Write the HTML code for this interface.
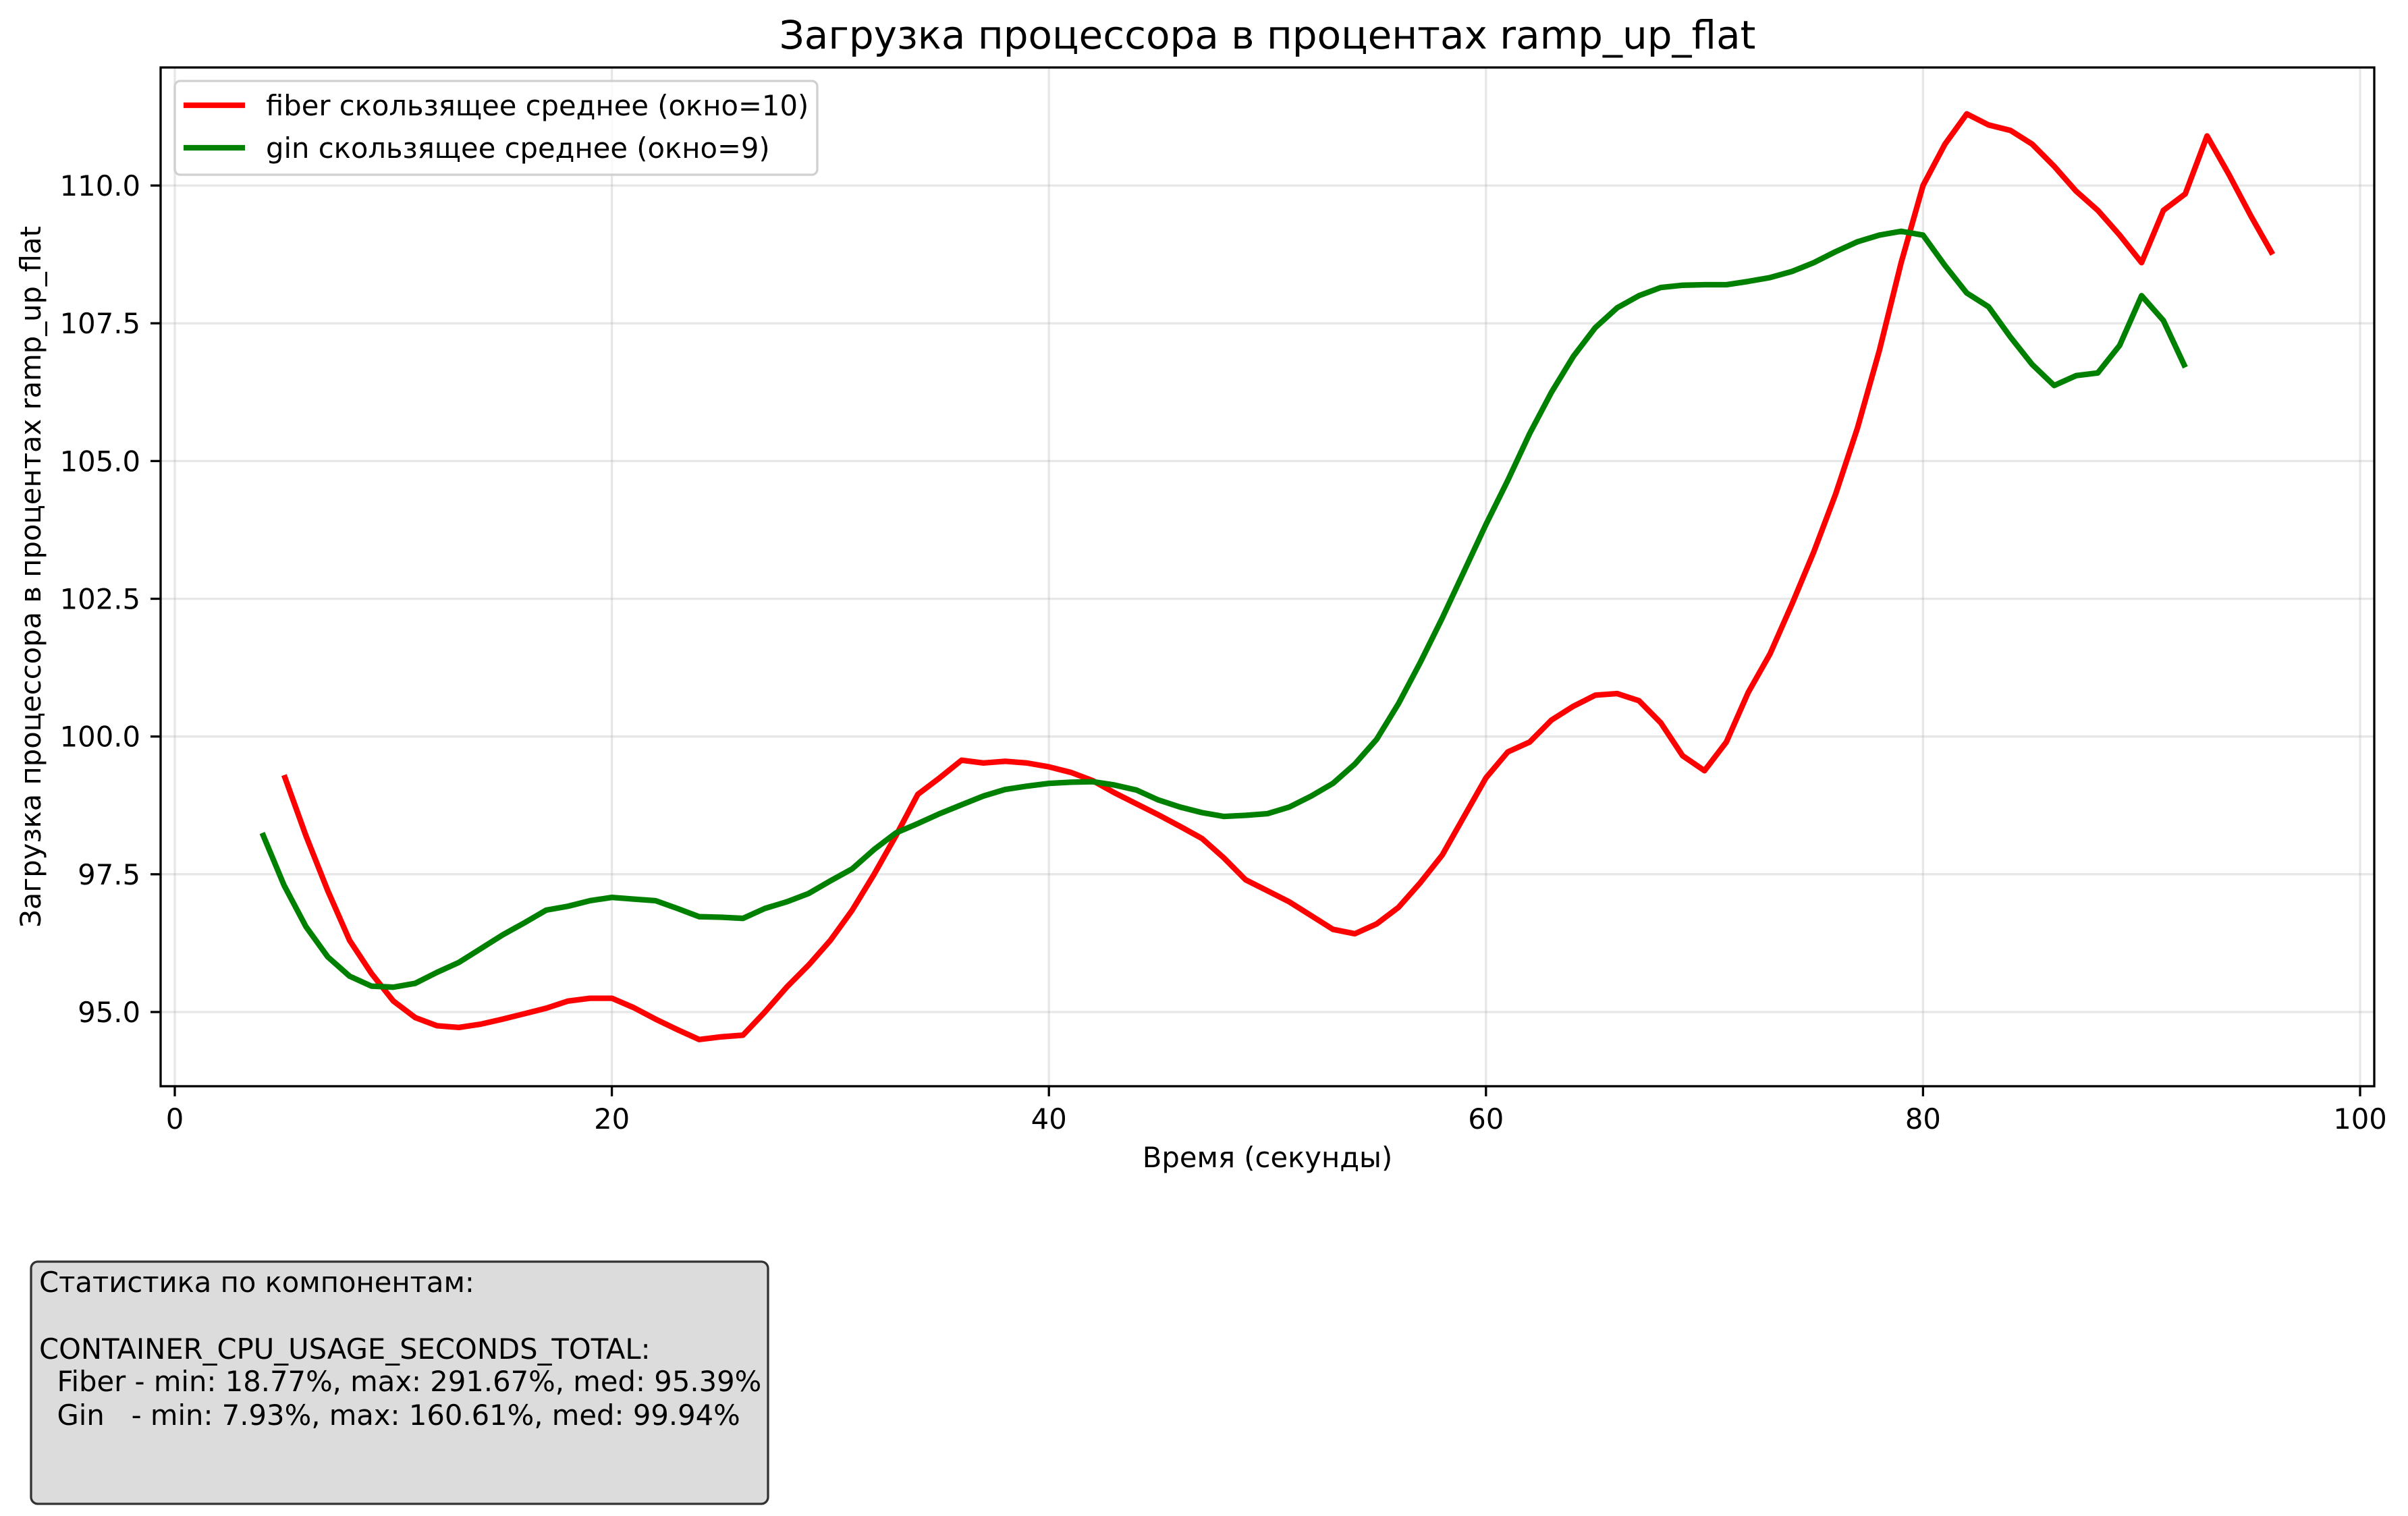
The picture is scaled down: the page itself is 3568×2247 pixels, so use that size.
<!DOCTYPE html>
<html><head><meta charset="utf-8"><style>
body{margin:0;background:#fff}
svg{display:block;font-family:"DejaVu Sans","Liberation Sans",sans-serif}
</style></head><body>
<svg id="chart" width="3568" height="2247" viewBox="0 0 3568 2247">
<rect width="3568" height="2247" fill="#fff"/>
<text x="1878" y="72" font-size="58" text-anchor="middle">Загрузка процессора в процентах ramp_up_flat</text>
<g id="grid"></g>
<g id="series"></g>
<rect x="238" y="100" width="3280" height="1510" fill="none" stroke="#000" stroke-width="3.3"/>
<g id="ticks"></g>
<text x="1878" y="1730" font-size="41.7" text-anchor="middle">Время (секунды)</text>
<text transform="translate(60,855) rotate(-90)" font-size="41.7" text-anchor="middle">Загрузка процессора в процентах ramp_up_flat</text>
<g>
<rect x="259" y="120" width="952" height="139" rx="8" fill="#fff" fill-opacity="0.8" stroke="#d0d0d0" stroke-width="3.3"/>
<line x1="272" y1="156" x2="363" y2="156" stroke="#ff0000" stroke-width="8.3"/>
<text x="394" y="171" font-size="41.7">fiber скользящее среднее (окно=10)</text>
<line x1="272" y1="219" x2="363" y2="219" stroke="#008000" stroke-width="8.3"/>
<text x="394" y="234" font-size="41.7">gin скользящее среднее (окно=9)</text>
</g>
<g>
<rect x="46" y="1870" width="1092" height="359" rx="10" fill="#dcdcdc" stroke="#333" stroke-width="3.3"/>
<text font-size="41.7" xml:space="preserve">
<tspan x="58" y="1915">Статистика по компонентам:</tspan>
<tspan x="58" y="2014">CONTAINER_CPU_USAGE_SECONDS_TOTAL:</tspan>
<tspan x="58" y="2062">  Fiber - min: 18.77%, max: 291.67%, med: 95.39%</tspan>
<tspan x="58" y="2112">  Gin   - min: 7.93%, max: 160.61%, med: 99.94%</tspan>
</text>
</g>
</svg>
<script>
const xTicks = [0, 20, 40, 60, 80, 100];
const yTicks = [95.0, 97.5, 100.0, 102.5, 105.0, 107.5, 110.0];
const fiberStart = 5;
const fiberValues = [99.3,98.2,97.2,96.3,95.7,95.2,94.9,94.75,94.72,94.78,94.87,94.97,95.07,95.2,95.25,95.25,95.08,94.87,94.68,94.5,94.55,94.58,95.0,95.45,95.85,96.3,96.85,97.5,98.2,98.95,99.25,99.57,99.52,99.55,99.52,99.45,99.35,99.2,98.98,98.78,98.58,98.37,98.15,97.8,97.4,97.2,97.0,96.75,96.5,96.42,96.6,96.9,97.35,97.85,98.55,99.25,99.72,99.9,100.3,100.55,100.75,100.78,100.65,100.25,99.65,99.38,99.9,100.8,101.5,102.4,103.35,104.4,105.6,107.0,108.6,110.0,110.75,111.3,111.1,111.0,110.75,110.35,109.9,109.55,109.1,108.6,109.55,109.85,110.9,110.2,109.45,108.75];
const ginStart = 4;
const ginValues = [98.25,97.3,96.55,96.0,95.65,95.47,95.45,95.52,95.72,95.9,96.15,96.4,96.62,96.85,96.92,97.02,97.08,97.05,97.02,96.88,96.73,96.72,96.7,96.88,97.0,97.15,97.38,97.6,97.95,98.25,98.42,98.6,98.76,98.92,99.04,99.1,99.15,99.17,99.18,99.12,99.03,98.85,98.72,98.62,98.55,98.57,98.6,98.72,98.92,99.15,99.5,99.95,100.6,101.35,102.15,103.0,103.85,104.65,105.5,106.25,106.9,107.42,107.78,108.0,108.15,108.19,108.2,108.2,108.26,108.33,108.44,108.6,108.8,108.98,109.1,109.17,109.1,108.55,108.05,107.8,107.25,106.75,106.37,106.55,106.6,107.1,108.0,107.55,106.7];

const NS = 'http://www.w3.org/2000/svg';
function X(v){ return 259 + (v - 0) * (3497 - 259) / 100; }
function Y(v){ return 275 + (110 - v) * (1500 - 275) / 15; }
function mk(tag, attrs, parent){ const e = document.createElementNS(NS, tag); for (const k in attrs) e.setAttribute(k, attrs[k]); parent.appendChild(e); return e; }
const grid = document.getElementById('grid');
const ticks = document.getElementById('ticks');
const series = document.getElementById('series');

xTicks.forEach(t => {
  const g = mk('line', {x1: X(t), x2: X(t), y1: 100, y2: 1610, stroke: '#b0b0b0', 'stroke-opacity': 0.3, 'stroke-width': 3.3}, grid);
  
  
  const tk = mk('line', {x1: X(t), x2: X(t), y1: 1610, y2: 1625, stroke: '#000', 'stroke-width': 3.3}, ticks);
  
  
  const lb = mk('text', {x: X(t), y: 1673, 'font-size': 41.7, 'text-anchor': 'middle'}, ticks);
  lb.textContent = String(t);
  
  
});
yTicks.forEach(t => {
  const g = mk('line', {x1: 238, x2: 3518, y1: Y(t), y2: Y(t), stroke: '#b0b0b0', 'stroke-opacity': 0.3, 'stroke-width': 3.3}, grid);
  
  
  const tk = mk('line', {x1: 223, x2: 238, y1: Y(t), y2: Y(t), stroke: '#000', 'stroke-width': 3.3}, ticks);
  
  
  const lb = mk('text', {x: 208, y: Y(t) + 15, 'font-size': 41.7, 'text-anchor': 'end'}, ticks);
  lb.textContent = t.toFixed(1);
  
  
});
function drawLine(start, vals, color, name){
  const pts = vals.map((v, i) => X(start + i).toFixed(1) + ',' + Y(v).toFixed(1)).join(' ');
  const p = mk('polyline', {points: pts, fill: 'none', stroke: color, 'stroke-width': 8.3, 'stroke-linejoin': 'round'}, series);
  
  
}
drawLine(fiberStart, fiberValues, '#ff0000', 'fiber-moving-average-line');
drawLine(ginStart, ginValues, '#008000', 'gin-moving-average-line');
</script>
</body></html>
